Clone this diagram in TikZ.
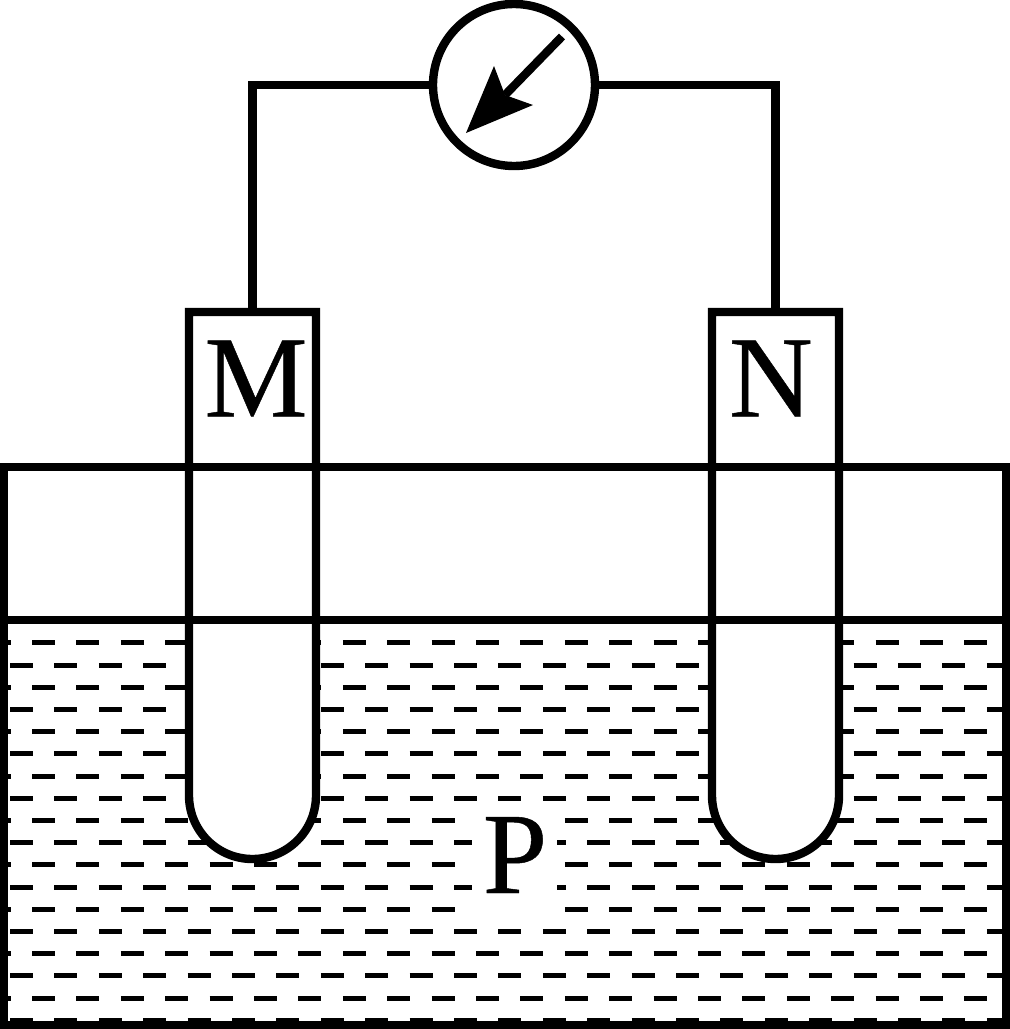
\documentclass[tikz,border=0pt]{standalone}
\usepackage{fontspec}
\setmainfont{Liberation Serif}
\newfontfamily\labelfont{Liberation Serif}[RawFeature={embolden=0.4}]
\begin{document}
\begin{tikzpicture}[x=1pt,y=-1pt,
  wall/.style={draw=black,line width=8.4pt,miter limit=10},
  wire/.style={black,line width=8.4pt},
  dashline/.style={black,line width=5pt},
  tube/.style={fill=white,draw=black,line width=8.4pt},
  letter/.style={font=\labelfont\fontsize{116}{116}\selectfont,inner sep=0pt,anchor=base,text=black},
  meter/.style={circle,draw=black,fill=white,line width=8.4pt,minimum size=162pt,inner sep=0pt,outer sep=0pt}]
\useasboundingbox (0,0) rectangle (1010,1029);
% liquid hatching
\begin{scope}
\clip (4,620) rectangle (1006,1025);
\foreach \r in {0,...,17}{
  \pgfmathsetmacro{\yy}{642.8+22.2*\r}
  \pgfmathsetmacro{\off}{mod(\r,2)==0 ? -12.4 : 10}
  \foreach \k in {0,...,22}{
    \pgfmathsetmacro{\xa}{\off+44.4*\k}
    \pgfmathsetmacro{\xb}{\xa+23}
    \draw[dashline] (\xa,\yy) -- (\xb,\yy);
  }
}
\end{scope}
\fill[white] (472,806) rectangle (557,925);
% tubes
\path[tube] (189,312) -- (316,312) -- (316,795.5) arc[start angle=0,end angle=180,radius=63.5] -- cycle;
\path[tube] (712,312) -- (839,312) -- (839,795.5) arc[start angle=0,end angle=180,radius=63.5] -- cycle;
% vessel
\path[wall] (4,467) rectangle (1006,1025);
\path[wall] (4,620) -- (1006,620);
% meter and wires
\node[meter] (galv) at (514,85) {};
\coordinate (mtop) at (252.5,312);
\coordinate (ntop) at (775.5,312);
\draw[wire] (galv.west) -| (mtop);
\draw[wire] (galv.east) -| (ntop);
% needle
\coordinate (tail) at (562,36.5);
\coordinate (notch) at (505,95);
\draw[wire] (tail) -- (notch);
\fill[black] (466,133) -- (494,66) -- (505,95) -- (533,105) -- cycle;
% labels
\node[letter] (labM) at (256,416.5) {M};
\node[letter] (labN) at (771,416.5) {N};
\node[letter] (labP) at (515,893) {P};
\end{tikzpicture}
\end{document}
